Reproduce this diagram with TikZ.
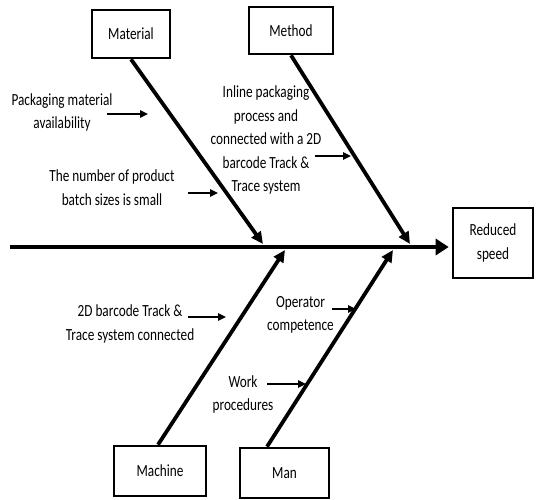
\documentclass[tikz,border=0pt]{standalone}
\usepackage{fontspec}
\setmainfont{Carlito}[FakeStretch=0.78]
\usetikzlibrary{arrows, arrows.meta}

\tikzset{
    catbox/.style={draw, line width=2.6pt, minimum height=48pt, inner sep=2pt},
    note/.style={align=center, inner sep=0pt},
    spine/.style={line width=4.5pt, -{Triangle[length=13pt,width=16pt]}},
    bone/.style={line width=3.8pt, -{Triangle[length=12pt,width=11pt]}},
    cause/.style={line width=1.4pt, -{Triangle[length=8pt,width=7.5pt]}},
}

\begin{document}
\begin{tikzpicture}[x=1pt, y=-1pt, font=\fontsize{17}{23.5}\selectfont]
    \useasboundingbox (0,0) rectangle (536,499);

    % categories
    \node[catbox, minimum width=78pt] (Material) at (131,34) {Material};
    \node[catbox, minimum width=84pt, minimum height=47pt] (Method) at (291,30.5) {Method};
    \node[catbox, minimum width=92pt, minimum height=50pt] (Machine) at (160,471) {Machine};
    \node[catbox, minimum width=89pt, minimum height=50pt] (Man) at (284.5,473) {Man};
    \node[catbox, align=center, minimum width=80pt, minimum height=70pt] (Reduced) at (493,243) {Reduced\\speed};

    % causes
    \node[note] (Packaging) at (62,112.5) {Packaging material\\availability};
    \node[note] (Batch) at (112,187.5) {The number of product\\batch sizes is small};
    \node[note] (Inline) at (266,140) {Inline packaging\\process and\\connected with a 2D\\barcode Track \&\\Trace system};
    \node[note] (Barcode) at (130,324) {2D barcode Track \&\\Trace system connected};
    \node[note] (Operator) at (300.5,315) {Operator\\competence};
    \node[note] (Work) at (243,394.5) {Work\\procedures};

    % spine and bones
    \coordinate (tail) at (10,247);
    \coordinate (tMaterial) at (263,244);
    \coordinate (tMethod) at (410,244);
    \coordinate (tMachine) at (285,250);
    \coordinate (tMan) at (393,250);

    \draw [spine] (tail) -- ([xshift=-3pt]tail -| Reduced.west);
    \draw [bone] (Material.south) -- (tMaterial);
    \draw [bone] (Method.south) -- (tMethod);
    \draw [bone] ([xshift=-2pt]Machine.north) -- (tMachine);
    \draw [bone] ([xshift=-17.5pt]Man.north) -- (tMan);

    % small arrows
    \coordinate (a1) at (107,114);  \coordinate (b1) at (148,114);
    \coordinate (a2) at (188,193);  \coordinate (b2) at (218,193);
    \coordinate (a3) at (315,156);  \coordinate (b3) at (351,156);
    \coordinate (a4) at (188,317);  \coordinate (b4) at (226,317);
    \coordinate (a5) at (332,309);  \coordinate (b5) at (356,309);
    \coordinate (a6) at (267,384);  \coordinate (b6) at (306,384);

    \draw [cause] (a1) -- (b1);
    \draw [cause] (a2) -- (b2);
    \draw [cause] (a3) -- (b3);
    \draw [cause] (a4) -- (b4);
    \draw [cause] (a5) -- (b5);
    \draw [cause] (a6) -- (b6);

\end{tikzpicture}
\end{document}
